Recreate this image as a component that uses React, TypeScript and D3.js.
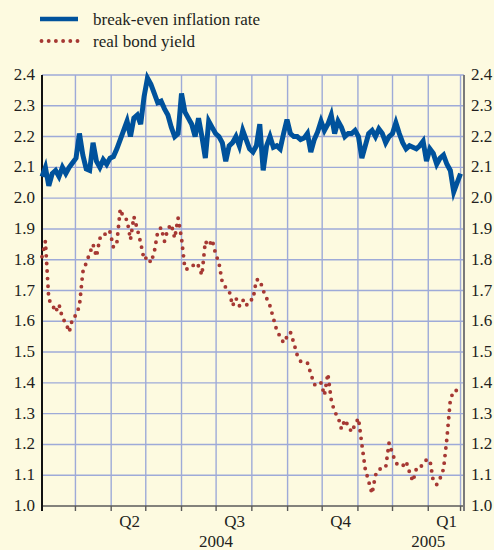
import React, { useEffect, useRef } from 'react';
import * as d3 from 'd3';

// observation window (readings spaced evenly between these dates)
const firstObs = new Date(2004, 1, 1);
const lastObs = new Date(2005, 0, 29);

// break-even inflation rate, %
const breakEven = [
  2.07, 2.10, 2.04, 2.08, 2.09, 2.07, 2.10, 2.08, 2.10, 2.115,
  2.13, 2.21, 2.14, 2.095, 2.09, 2.18, 2.12, 2.10, 2.125, 2.11,
  2.13, 2.135, 2.16, 2.19, 2.22, 2.25, 2.20, 2.26, 2.27, 2.24,
  2.33, 2.39, 2.37, 2.34, 2.31, 2.315, 2.29, 2.27, 2.23, 2.20,
  2.21, 2.34, 2.28, 2.26, 2.24, 2.20, 2.26, 2.20, 2.13, 2.25,
  2.23, 2.21, 2.20, 2.18, 2.12, 2.17, 2.18, 2.20, 2.17, 2.22,
  2.19, 2.16, 2.15, 2.17, 2.24, 2.09, 2.17, 2.20, 2.165, 2.17,
  2.16, 2.21, 2.255, 2.21, 2.20, 2.20, 2.19, 2.195, 2.21, 2.15,
  2.19, 2.215, 2.25, 2.22, 2.24, 2.27, 2.21, 2.25, 2.23, 2.20,
  2.21, 2.21, 2.22, 2.20, 2.13, 2.17, 2.21, 2.22, 2.20, 2.225,
  2.21, 2.18, 2.20, 2.21, 2.245, 2.21, 2.18, 2.16, 2.17, 2.165,
  2.16, 2.17, 2.185, 2.12, 2.16, 2.145, 2.11, 2.13, 2.14, 2.11,
  2.09, 2.02, 2.05, 2.08,
];

// real bond yield, %
const realYield = [
  1.81, 1.86, 1.67, 1.655, 1.63, 1.655, 1.61, 1.595, 1.565, 1.61,
  1.62, 1.65, 1.76, 1.79, 1.82, 1.85, 1.81, 1.87, 1.87, 1.895,
  1.89, 1.84, 1.855, 1.965, 1.935, 1.93, 1.865, 1.94, 1.90, 1.855,
  1.80, 1.81, 1.79, 1.825, 1.89, 1.905, 1.86, 1.90, 1.915, 1.87,
  1.935, 1.87, 1.77, 1.77, 1.775, 1.79, 1.78, 1.75, 1.86, 1.845,
  1.865, 1.82, 1.79, 1.725, 1.71, 1.70, 1.65, 1.675, 1.65, 1.67,
  1.65, 1.67, 1.67, 1.735, 1.735, 1.70, 1.675, 1.65, 1.61, 1.57,
  1.55, 1.53, 1.55, 1.565, 1.53, 1.49, 1.47, 1.465, 1.465, 1.43,
  1.395, 1.39, 1.40, 1.36, 1.43, 1.345, 1.305, 1.29, 1.25, 1.28,
  1.26, 1.24, 1.265, 1.285, 1.20, 1.12, 1.08, 1.04, 1.10, 1.12,
  1.12, 1.125, 1.205, 1.17, 1.14, 1.13, 1.13, 1.145, 1.11, 1.08,
  1.12, 1.12, 1.14, 1.15, 1.15, 1.08, 1.07, 1.09, 1.12, 1.22,
  1.345, 1.375, 1.375, 1.38,
];

const yTicks = [1.0, 1.1, 1.2, 1.3, 1.4, 1.5, 1.6, 1.7, 1.8, 1.9, 2.0, 2.1, 2.2, 2.3, 2.4];
const quarterLabels = ['Q2', 'Q3', 'Q4', 'Q1'];
const quarterDates = [new Date(2004, 3, 17), new Date(2004, 6, 17), new Date(2004, 9, 17), new Date(2005, 0, 17)];
const yearLabels = ['2004', '2005'];
const yearDates = [new Date(2004, 6, 1), new Date(2005, 0, 1)];
const seriesNames = ['break-even inflation rate', 'real bond yield'];

const BG = '#fdfae0';
const BLUE = '#00529c';
const RED = '#a63833';
const GRID = '#9eaad8';
const FONT = '"Liberation Serif", "Times New Roman", serif';

const App = () => {
  const svgRef = useRef<SVGSVGElement>(null);

  const W = 494;
  const H = 550;
  const margin = { top: 75, right: 30, bottom: 44, left: 42 };

  useEffect(() => {
    const svg = d3.select(svgRef.current);
    svg.selectAll('*').remove();

    svg.append('rect').attr('width', W).attr('height', H).attr('fill', BG);

    const x = d3
      .scaleTime()
      .domain([new Date(2004, 1, 1), new Date(2005, 1, 1)])
      .range([margin.left, W - margin.right]);
    const y = d3.scaleLinear().domain([1.0, 2.4]).range([H - margin.bottom, margin.top]);

    const n = breakEven.length;
    const span = +lastObs - +firstObs;
    const dates = breakEven.map((_, i) => new Date(+firstObs + (i * span) / (n - 1)));

    // grid
    const g = svg.append('g');
    g.selectAll('line.h')
      .data(yTicks.slice(1))
      .join('line')
      .attr('x1', x.range()[0])
      .attr('x2', x.range()[1])
      .attr('y1', (d) => y(d))
      .attr('y2', (d) => y(d))
      .attr('stroke', GRID)
      .attr('stroke-width', 1.4);

    const monthLines = d3.timeMonth.range(new Date(2004, 2, 1), new Date(2005, 1, 1)).concat([lastObs]);
    g.selectAll('line.v')
      .data(monthLines)
      .join('line')
      .attr('x1', (d) => x(d))
      .attr('x2', (d) => x(d))
      .attr('y1', y(2.4))
      .attr('y2', y(1.0))
      .attr('stroke', GRID)
      .attr('stroke-width', 1.4);

    // bottom axis with month ticks
    const tickDates = d3.timeMonth.range(new Date(2004, 1, 1), new Date(2005, 1, 2)).concat([lastObs]);
    svg
      .append('line')
      .attr('x1', x.range()[0])
      .attr('x2', x.range()[1])
      .attr('y1', y(1.0))
      .attr('y2', y(1.0))
      .attr('stroke', '#5a5a5a')
      .attr('stroke-width', 1.6);
    svg
      .append('g')
      .selectAll('line')
      .data(tickDates)
      .join('line')
      .attr('x1', (d) => x(d))
      .attr('x2', (d) => x(d))
      .attr('y1', y(1.0))
      .attr('y2', y(1.0) + 5)
      .attr('stroke', '#5a5a5a')
      .attr('stroke-width', 1.4);

    // left and right axis lines
    svg
      .append('line')
      .attr('x1', x.range()[0])
      .attr('x2', x.range()[0])
      .attr('y1', y(2.4))
      .attr('y2', y(1.0) + 5)
      .attr('stroke', '#111')
      .attr('stroke-width', 2);
    svg
      .append('line')
      .attr('x1', x.range()[1])
      .attr('x2', x.range()[1])
      .attr('y1', y(2.4))
      .attr('y2', y(1.0) + 5)
      .attr('stroke', '#7a7a7a')
      .attr('stroke-width', 2);

    // y labels both sides
    const fmt = d3.format('.1f');
    const labels = svg.append('g').style('font-family', FONT).style('font-size', '17px').attr('fill', '#231f20');
    labels
      .selectAll('text.l')
      .data(yTicks)
      .join('text')
      .attr('x', x.range()[0] - 7)
      .attr('y', (d) => y(d) + 5)
      .attr('text-anchor', 'end')
      .text((d) => fmt(d));
    labels
      .selectAll('text.r')
      .data(yTicks)
      .join('text')
      .attr('x', x.range()[1] + 7)
      .attr('y', (d) => y(d) + 5)
      .attr('text-anchor', 'start')
      .text((d) => fmt(d));

    // x labels
    labels
      .selectAll('text.q')
      .data(quarterLabels)
      .join('text')
      .attr('x', (d, i) => x(quarterDates[i]))
      .attr('y', H - 23)
      .attr('text-anchor', 'middle')
      .text((d) => d);
    labels
      .selectAll('text.yr')
      .data(yearLabels)
      .join('text')
      .attr('x', (d, i) => x(yearDates[i]))
      .attr('y', H - 3)
      .attr('text-anchor', 'middle')
      .text((d) => d);

    // series
    const line = d3
      .line<number>()
      .x((d, i) => x(dates[i]))
      .y((d) => y(d));

    svg
      .append('path')
      .datum(realYield)
      .attr('fill', 'none')
      .attr('stroke', RED)
      .attr('stroke-width', 3.9)
      .attr('stroke-linecap', 'round')
      .attr('stroke-dasharray', '0 7.6')
      .attr('d', line);

    svg
      .append('path')
      .datum(breakEven)
      .attr('fill', 'none')
      .attr('stroke', BLUE)
      .attr('stroke-width', 5)
      .attr('stroke-linejoin', 'miter')
      .attr('d', line);

    // legend
    const legend = svg.append('g');
    legend
      .append('line')
      .attr('x1', 40)
      .attr('x2', 78)
      .attr('y1', 19)
      .attr('y2', 19)
      .attr('stroke', BLUE)
      .attr('stroke-width', 4.5);
    legend
      .append('line')
      .attr('x1', 41.5)
      .attr('x2', 79)
      .attr('y1', 41)
      .attr('y2', 41)
      .attr('stroke', RED)
      .attr('stroke-width', 3.9)
      .attr('stroke-linecap', 'round')
      .attr('stroke-dasharray', '0 7.2');
    legend
      .selectAll('text')
      .data(seriesNames)
      .join('text')
      .attr('x', 93)
      .attr('y', (d, i) => 25 + i * 22)
      .style('font-family', FONT)
      .style('font-size', '17px')
      .attr('fill', '#231f20')
      .text((d) => d);
  }, []);

  return (
    <svg
      ref={svgRef}
      width={W}
      height={H}
      style={{ position: 'absolute', left: 0, top: 0, display: 'block' }}
    />
  );
};

export default App;
